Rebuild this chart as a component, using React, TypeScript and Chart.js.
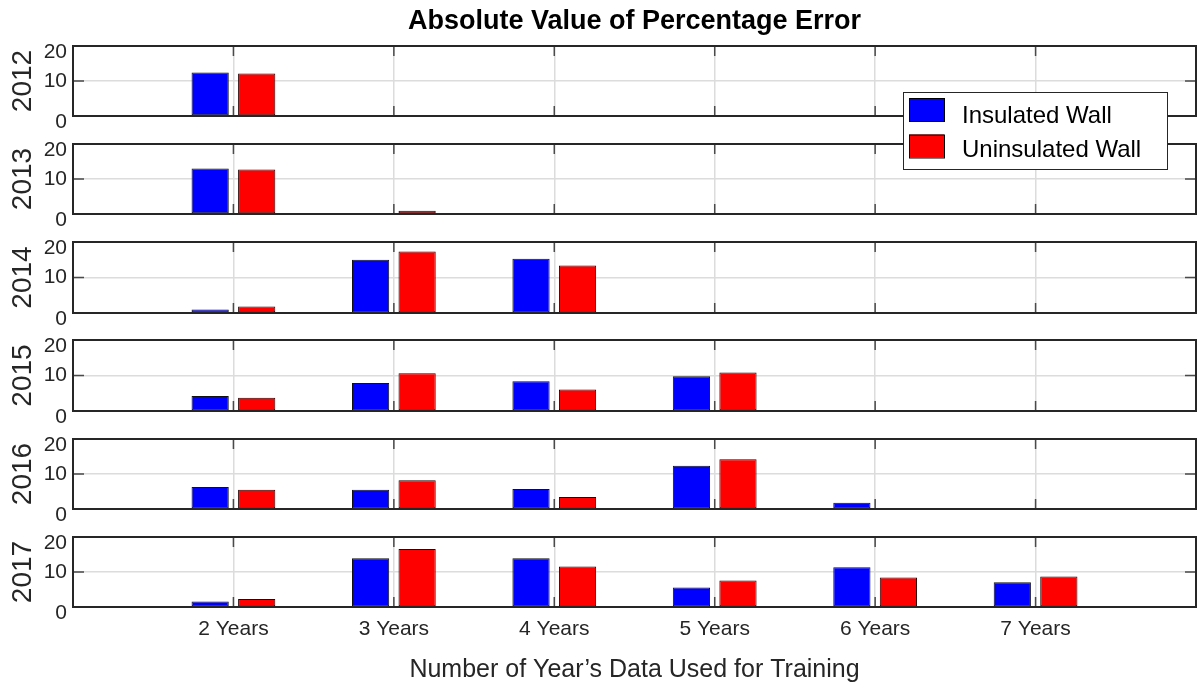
import React, { useEffect, useRef } from 'react';
import { Chart, registerables } from 'chart.js';

Chart.register(...registerables);

// ---------------- data ----------------
const categories = ['', '2 Years', '3 Years', '4 Years', '5 Years', '6 Years', '7 Years', ''];
const years = ['2012', '2013', '2014', '2015', '2016', '2017'];
const seriesNames = ['Insulated Wall', 'Uninsulated Wall'];
const yTickValues = [0, 10, 20];

const insulated2012 = [null, 12.4, null, null, null, null, null, null];
const uninsulated2012 = [null, 12.15, null, null, null, null, null, null];
const insulated2013 = [null, 13.0, 0.25, null, null, null, null, null];
const uninsulated2013 = [null, 12.7, 0.9, null, null, null, null, null];
const insulated2014 = [null, 0.96, 15.0, 15.3, null, null, null, null];
const uninsulated2014 = [null, 1.8, 17.3, 13.4, null, null, null, null];
const insulated2015 = [null, 4.2, 7.9, 8.4, 9.8, null, null, null];
const uninsulated2015 = [null, 3.7, 10.6, 6.05, 10.85, null, null, null];
const insulated2016 = [null, 6.3, 5.5, 5.75, 12.35, 1.8, null, null];
const uninsulated2016 = [null, 5.5, 8.2, 3.4, 14.2, 0.3, null, null];
const insulated2017 = [null, 1.6, 13.9, 13.9, 5.6, 11.35, 7.05, null];
const uninsulated2017 = [null, 2.3, 16.6, 11.6, 7.6, 8.45, 8.7, null];

const insulatedByYear = [insulated2012, insulated2013, insulated2014, insulated2015, insulated2016, insulated2017];
const uninsulatedByYear = [uninsulated2012, uninsulated2013, uninsulated2014, uninsulated2015, uninsulated2016, uninsulated2017];

// ---------------- layout ----------------
const W = 1197;
const H = 688;
const panelTops = [46, 144, 242, 340, 439, 537];
const panelBottoms = [116, 214, 313, 411, 509, 607];
const PLOT_LEFT = 73;
const PLOT_RIGHT = 1196;

const FONT = "'Liberation Sans', Arial, Helvetica, sans-serif";
const AXIS_COLOR = '#262626';
const GRID_COLOR = '#dcdcdc';
const BLUE = '#0000ff';
const RED = '#ff0000';

Chart.defaults.font.family = FONT;
Chart.defaults.color = AXIS_COLOR;

const boxPlugin = {
  id: 'matlabBox',
  afterDatasetsDraw(chart: any) {
    const { ctx, chartArea: a, scales } = chart;
    const x = scales.x;
    const y = scales.y;
    ctx.save();
    ctx.strokeStyle = '#4a4a4a';
    ctx.lineWidth = 1.5;
    ctx.beginPath();
    for (let i = 1; i < categories.length - 1; i++) {
      const px = x.getPixelForValue(i);
      ctx.moveTo(px, a.top);
      ctx.lineTo(px, a.top + 10);
      ctx.moveTo(px, a.bottom);
      ctx.lineTo(px, a.bottom - 10);
    }
    yTickValues.forEach((v) => {
      const py = y.getPixelForValue(v);
      ctx.moveTo(a.left, py);
      ctx.lineTo(a.left + 11, py);
      ctx.moveTo(a.right, py);
      ctx.lineTo(a.right - 11, py);
    });
    ctx.stroke();
    ctx.strokeStyle = AXIS_COLOR;
    ctx.lineWidth = 2;
    ctx.strokeRect(a.left, a.top, a.right - a.left, a.bottom - a.top);
    ctx.restore();
  },
};

const legendPlugin = {
  id: 'matlabLegend',
  afterDraw(chart: any) {
    const { ctx, chartArea: a } = chart;
    const left = a.right - 293;
    const top = a.top + 46;
    const w = 264;
    const h = 77;
    ctx.save();
    ctx.fillStyle = '#ffffff';
    ctx.fillRect(left, top, w, h);
    ctx.strokeStyle = AXIS_COLOR;
    ctx.lineWidth = 1;
    ctx.strokeRect(left + 0.5, top + 0.5, w, h);
    const swatchTops = [6, 42.5];
    const baselines = [30.5, 64.5];
    chart.data.datasets.forEach((ds: any, i: number) => {
      ctx.fillStyle = ds.backgroundColor;
      ctx.fillRect(left + 6, top + swatchTops[i], 35, 23);
      ctx.strokeStyle = '#000';
      ctx.lineWidth = 1;
      ctx.strokeRect(left + 6.5, top + swatchTops[i] + 0.5, 35, 23);
      ctx.fillStyle = '#000';
      ctx.font = `24px ${FONT}`;
      ctx.textAlign = 'left';
      ctx.textBaseline = 'alphabetic';
      ctx.fillText(ds.label, left + 59, top + baselines[i]);
    });
    ctx.restore();
  },
};

function makeConfig(i: number): any {
  const isFirst = i === 0;
  const isLast = i === years.length - 1;
  const top = panelTops[i];
  const bottom = panelBottoms[i];
  const xAxisHeight = isLast ? H - bottom : 0;
  return {
    type: 'bar',
    data: {
      labels: categories,
      datasets: [
        {
          label: seriesNames[0],
          data: insulatedByYear[i],
          backgroundColor: BLUE,
          borderColor: '#111',
          borderWidth: 1,
          borderSkipped: false,
          categoryPercentage: 0.58,
          barPercentage: 0.8,
        },
        {
          label: seriesNames[1],
          data: uninsulatedByYear[i],
          backgroundColor: RED,
          borderColor: '#2a0000',
          borderWidth: 1,
          borderSkipped: false,
          categoryPercentage: 0.58,
          barPercentage: 0.8,
        },
      ],
    },
    options: {
      responsive: false,
      animation: false,
      events: [],
      layout: {
        padding: {
          top: isFirst ? 0 : top,
          bottom: H - bottom - xAxisHeight,
          left: 0,
          right: W - PLOT_RIGHT,
        },
      },
      plugins: {
        legend: { display: false },
        tooltip: { enabled: false },
        title: isFirst
          ? {
              display: true,
              text: 'Absolute Value of Percentage Error',
              color: '#000',
              fullSize: false,
              font: { family: FONT, size: 27, weight: 'bold', lineHeight: 1.2 },
              padding: { top: 5, bottom: 8.6 },
            }
          : { display: false },
      },
      scales: {
        x: {
          type: 'category',
          offset: false,
          grid: { offset: false, color: GRID_COLOR, lineWidth: 1.5, drawTicks: false },
          border: { display: false },
          ticks: {
            display: isLast,
            autoSkip: false,
            maxRotation: 0,
            padding: 10,
            color: AXIS_COLOR,
            font: { family: FONT, size: 21 },
            callback: (_v: any, idx: number) => categories[idx],
          },
          title: {
            display: isLast,
            text: 'Number of Year\u2019s Data Used for Training',
            color: AXIS_COLOR,
            font: { family: FONT, size: 25 },
            padding: { top: 0, bottom: 3 },
          },
          afterFit: (s: any) => {
            s.height = xAxisHeight;
            s.paddingLeft = 0;
            s.paddingRight = 0;
          },
        },
        y: {
          min: 0,
          max: 20,
          grid: { color: GRID_COLOR, lineWidth: 1.5, drawTicks: false },
          border: { display: false },
          afterBuildTicks: (s: any) => {
            s.ticks = yTickValues.map((v) => ({ value: v }));
          },
          ticks: {
            padding: 6,
            color: AXIS_COLOR,
            font: { family: FONT, size: 21, lineHeight: '13px' },
            callback: (v: any) => (v === 10 ? String(v) : ['', String(v)]),
          },
          title: {
            display: true,
            text: years[i],
            color: AXIS_COLOR,
            font: { family: FONT, size: 28 },
            padding: { top: 6, bottom: 0 },
          },
          afterFit: (s: any) => {
            s.width = PLOT_LEFT;
          },
        },
      },
    },
    plugins: isFirst ? [boxPlugin, legendPlugin] : [boxPlugin],
  };
}

export default function App() {
  const refs = useRef<(HTMLCanvasElement | null)[]>([]);

  useEffect(() => {
    const charts = years.map((_, i) => new Chart(refs.current[i] as HTMLCanvasElement, makeConfig(i)));
    return () => {
      charts.forEach((c) => c.destroy());
    };
  }, []);

  return (
    <div style={{ position: 'absolute', left: 0, top: 0, width: W, height: H, background: '#fff' }}>
      {years.map((y, i) => (
        <canvas
          key={y}
          ref={(el) => {
            refs.current[i] = el;
          }}
          width={W}
          height={H}
          style={{ position: 'absolute', left: 0, top: 0, zIndex: 20 - i }}
        />
      ))}
    </div>
  );
}
